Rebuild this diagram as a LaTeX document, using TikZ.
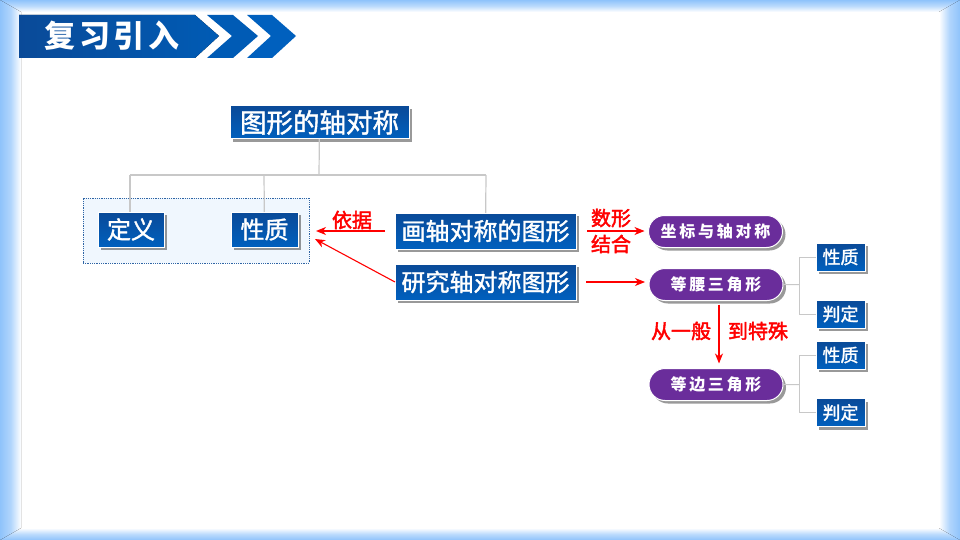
\documentclass[tikz,border=0pt]{standalone}
\usepackage{fontspec}
\setmainfont{Noto Sans CJK SC}
\newfontfamily\boxcjk[FakeBold=1.5]{Noto Sans CJK SC}
\newfontfamily\redcjk[FakeBold=2.2]{Noto Sans CJK SC}
\newfontfamily\widecjk[LetterSpace=17]{Noto Sans CJK SC}
\newfontfamily\bannercjk[LetterSpace=11]{Noto Sans CJK SC}
\usepackage{tikz}
\usetikzlibrary{arrows.meta,positioning,shadows,shapes.misc}
\definecolor{frameblue}{HTML}{8FC3FB}
\definecolor{boxtop}{HTML}{0A4A98}
\definecolor{boxbottom}{HTML}{0060BE}
\definecolor{pillpurple}{HTML}{6A2D9B}
\definecolor{treegray}{HTML}{C8C8C8}
\definecolor{panelfill}{HTML}{F0F7FE}
\definecolor{paneldots}{HTML}{2F65A5}

\begin{document}
\begin{tikzpicture}[
    x=1pt, y=-1pt,
    >={Stealth[length=10pt,width=8pt,inset=3pt]},
    box/.style={
		rectangle,
		draw=white,
		line width=1pt,
		top color=boxtop,
		bottom color=boxbottom,
		text=white,
		inner sep=0pt,
		outer sep=0pt,
		drop shadow={shadow xshift=3pt, shadow yshift=-3pt, fill=black, opacity=0.4}
	},
	bigbox/.style={
		box,
		minimum width=181pt,
		minimum height=36pt,
		font=\boxcjk\fontsize{24}{24}\selectfont
	},
	smallbox/.style={
		box,
		minimum width=49pt,
		minimum height=28pt,
		font=\boxcjk\fontsize{18}{18}\selectfont
	},
	pill/.style={
		rounded rectangle,
		draw=white,
		line width=1pt,
		fill=pillpurple,
		text=white,
		inner sep=0pt,
		outer sep=0pt,
		minimum width=134pt,
		minimum height=32pt,
		font=\widecjk\bfseries\fontsize{16}{16}\selectfont,
		drop shadow={shadow xshift=3pt, shadow yshift=-3pt, fill=black, opacity=0.4}
	},
	redlabel/.style={
		text=red,
		inner sep=0pt,
		font=\redcjk\fontsize{20}{20}\selectfont
	},
	redarrow/.style={
		draw=red,
		line width=1.1pt,
		->
	},
	tree/.style={
		draw=treegray,
		line width=1.2pt
	}
  ]
  \useasboundingbox (0,0) rectangle (960,540);

  % frame round the slide
  \fill [top color=frameblue, bottom color=white, middle color=frameblue!60] (0,0) rectangle (960,12);
  \fill [top color=white, bottom color=frameblue, middle color=frameblue!60] (0,528) rectangle (960,540);
  \fill [left color=frameblue, right color=white, middle color=frameblue!70] (0,0) -- (21,12) -- (21,528) -- (0,540) -- cycle;
  \fill [left color=white, right color=frameblue, middle color=frameblue!70] (960,0) -- (939,12) -- (939,528) -- (960,540) -- cycle;

  % banner
  \fill [left color=boxtop, right color=boxbottom!95!black] (19,15) -- (195,15) -- (219,36) -- (195,58) -- (19,58) -- cycle;
  \fill [boxbottom!95!black] (207,15) -- (233,15) -- (258,36) -- (233,58) -- (207,58) -- (232,36) -- cycle;
  \fill [boxbottom] (247,15) -- (272,15) -- (296,36) -- (272,58) -- (247,58) -- (271,36) -- cycle;
  \node [text=white, inner sep=0pt, font=\bannercjk\bfseries\fontsize{31}{31}\selectfont] (banner) at (112,36) {复习引入};

  % panel behind the two boxes
  \node [rectangle, draw=paneldots, densely dotted, line width=0.8pt, fill=panelfill,
         minimum width=226pt, minimum height=65pt, inner sep=0pt, outer sep=0pt] (panel) at (196,230.5) {};

  % tree lines first, boxes go on top
  \coordinate (fork) at (319,175);
  \coordinate (dingyifork) at (130,175);
  \coordinate (xingzhifork) at (264,175);
  \coordinate (huatufork) at (486,175);
  \coordinate (panelin) at (315,239);

  \node [box, minimum width=179pt, minimum height=33pt, font=\boxcjk\fontsize{26.5}{26.5}\selectfont] (axis) at (319.5,122.5) {图形的轴对称};
  \node [box, minimum width=66pt, minimum height=35pt, font=\boxcjk\fontsize{24}{24}\selectfont] (dingyi) at (131,229.5) {定义};
  \node [box, minimum width=67pt, minimum height=35pt, font=\boxcjk\fontsize{24}{24}\selectfont] (xingzhi) at (264.5,229.5) {性质};
  \node [bigbox] (huatu) at (485.5,231) {画轴对称的图形};
  \node [bigbox] (yanjiu) at (485.5,282) {研究轴对称图形};

  \draw [tree] (axis) -- (fork);
  \draw [tree] (dingyifork) -- (huatufork);
  \draw [tree] (dingyifork) -- (dingyi.north -| dingyifork);
  \draw [tree] (xingzhifork) -- (xingzhi);
  \draw [tree] (huatufork) -- (huatu);

  \node [pill] (zuobiao) at (715.5,231.5) {坐标与轴对称};
  \node [pill] (dengyao) at (716,284.5) {等腰三角形};
  \node [pill] (dengbian) at (716,384.5) {等边三角形};

  \node [smallbox] (xingzhia) at (840.5,257) {性质};
  \node [smallbox] (pandinga) at (840.5,314) {判定};
  \node [smallbox] (xingzhib) at (840.5,355) {性质};
  \node [smallbox] (pandingb) at (840.5,412.5) {判定};

  \coordinate (brancha) at (799,284.5);
  \coordinate (branchb) at (799,384.5);
  \draw [tree, line width=1pt] (dengyao) -- (brancha);
  \draw [tree, line width=1pt] (xingzhia) -| (brancha) |- (pandinga);
  \draw [tree, line width=1pt] (dengbian) -- (branchb);
  \draw [tree, line width=1pt] (xingzhib) -| (branchb) |- (pandingb);

  % red arrows and their labels
  \draw [redarrow, shorten <=10pt, shorten >=7pt] (huatu.west) -- (huatu.west -| panel.east);
  \draw [redarrow] (yanjiu.west) -- (panelin);
  \draw [redarrow, shorten <=11pt, shorten >=4pt] (huatu.east) -- (zuobiao.west |- huatu.east);
  \draw [redarrow, shorten <=10pt, shorten >=4pt] (yanjiu.east) -- (dengyao.west |- yanjiu.east);
  \draw [redarrow, shorten <=4pt, shorten >=5pt] (dengyao.south -| 719,0) -- (dengbian.north -| 719,0);

  \node [redlabel] (yiju) at (352,220) {依据};
  \node [redlabel] (shuxing) at (611,218) {数形};
  \node [redlabel] (jiehe) at (611,244) {结合};
  \node [redlabel] (congyiban) at (681,331) {从一般};
  \node [redlabel] (daoteshu) at (758,331) {到特殊};

\end{tikzpicture}
\end{document}
